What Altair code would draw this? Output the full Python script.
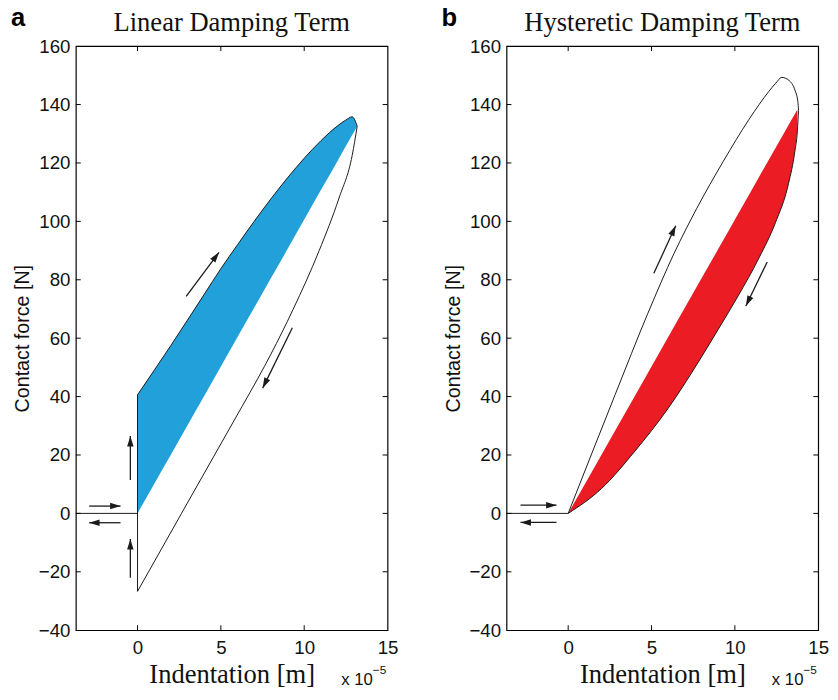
import math
import altair as alt
import pandas as pd

# ---------------- data (x in 1e-5 m, F in N) -------------
XMIN, XMAX = -3.7, 15.0
YMIN, YMAX = -40.0, 160.0
y_ticks = [-40, -20, 0, 20, 40, 60, 80, 100, 120, 140, 160]
x_ticks = [0, 5, 10, 15]

# Panel a : linear damping term
a_up_x = [0.0, 1.0, 2.0, 3.0, 4.0, 5.0, 6.0, 7.0, 8.0, 9.0, 10.0, 11.0, 12.0, 12.5, 12.88, 13.18]
a_up_F = [40.6, 49.0, 57.5, 66.2, 75.0, 83.8, 92.0, 100.0, 107.7, 114.9, 121.6, 127.6, 132.7, 134.7, 135.8, 132.6]
a_chord_F = [0.0, 10.1, 20.1, 30.2, 40.2, 50.3, 60.4, 70.4, 80.5, 90.5, 100.6, 110.7, 120.7, 125.8, 129.6, 132.6]
a_lo_x = [0.0, 2.64, 5.0, 6.27, 7.2, 8.0, 9.33, 10.9, 12.09, 12.88, 13.18]
a_lo_F = [-26.7, 0.0, 23.8, 36.6, 46.0, 54.5, 69.8, 90.0, 108.0, 122.6, 132.6]
a_seg = [  # x1, F1, x2, F2 : straight parts of the path
    (XMIN, 0.0, 0.0, 0.0),
    (0.0, -26.7, 0.0, 40.6),
]
a_arrows = [  # tail x, tail F, head x, head F
    (2.92, 74.3, 4.89, 89.4),
    (9.29, 63.6, 7.51, 42.9),
    (-0.43, 11.4, -0.43, 26.5),
    (-0.43, -22.0, -0.43, -8.8),
    (-2.9, 2.5, -1.02, 2.5),
    (-1.02, -3.2, -2.9, -3.2),
]

# Panel b : hysteretic damping term
b_up_x = [0.0, 2.82, 4.78, 6.35, 7.72, 9.29, 10.86, 12.04, 12.45, 12.82, 13.3, 13.6, 13.78, 13.82]
b_up_F = [0.0, 40.7, 68.5, 89.0, 104.5, 120.4, 135.0, 144.5, 147.3, 149.3, 148.0, 145.0, 141.0, 138.0]
b_lo_x = [0.0, 2.0, 4.0, 6.0, 7.72, 9.0, 10.2, 11.45, 12.43, 13.22, 13.6, 13.75, 13.82]
b_lo_F = [0.0, 8.5, 21.3, 36.0, 51.0, 63.0, 74.5, 87.5, 99.5, 113.0, 124.0, 131.0, 138.0]
b_red_x = [0.0, 2.0, 4.0, 6.0, 7.72, 9.0, 10.2, 11.45, 12.43, 13.22, 13.6, 13.75]
b_red_top = [0.0, 20.1, 40.2, 60.4, 77.7, 90.5, 102.6, 115.2, 125.0, 133.0, 136.8, 138.3]
b_red_bot = [0.0, 8.5, 21.3, 36.0, 51.0, 63.0, 74.5, 87.5, 99.5, 113.0, 124.0, 131.0]
b_seg = [
    (XMIN, 0.0, 0.0, 0.0),
]
b_arrows = [
    (5.14, 82.2, 6.45, 98.5),
    (11.94, 86.1, 10.66, 71.0),
    (-2.86, 2.8, -0.7, 2.8),
    (-0.7, -3.1, -2.86, -3.1),
]

# ---------------- styling -------------
W, H = 317, 594
BLUE = "#22a0da"
RED = "#eb1c24"
LINE = "#1a1a1a"
SANS = "Liberation Sans"
SERIF = "Liberation Serif"

xs = alt.Scale(domain=[XMIN, XMAX], nice=False, zero=False)
ys = alt.Scale(domain=[YMIN, YMAX], nice=False, zero=False)
HEAD = "M0,0 L1.25,4 L-1.25,4 Z"

X_AXIS = alt.Axis(
    values=x_ticks, title="Indentation [m]", ticks=False, domain=False, grid=False,
    labelFont=SANS, labelFontSize=19, labelColor="#111", labelPadding=9,
    titleFont=SERIF, titleFontSize=27, titleFontWeight="normal", titleColor="#111",
    titlePadding=4, labelFlush=False,
)
Y_AXIS = alt.Axis(
    values=y_ticks, title="Contact force [N]", ticks=False, domain=False, grid=False,
    labelFont=SANS, labelFontSize=19, labelColor="#111", labelPadding=6,
    titleFont=SANS, titleFontSize=20, titleFontWeight="normal", titleColor="#111",
    titlePadding=6, labelFlush=False,
)


def X(f):
    return alt.X(f, scale=xs, axis=X_AXIS)


def Y(f):
    return alt.Y(f, scale=ys, axis=Y_AXIS)


def arrow_df(arrows):
    sx = W / (XMAX - XMIN)
    sy = H / (YMAX - YMIN)
    rows = []
    for x1, y1, x2, y2 in arrows:
        dxp = (x2 - x1) * sx
        dyp = -(y2 - y1) * sy
        ang = math.degrees(math.atan2(dxp, -dyp)) % 360
        rows.append(dict(x1=x1, y1=y1, x2=x2, y2=y2, ang=ang))
    return pd.DataFrame(rows)


def panel(fill_x, fill_top, fill_bot, color, curves, segs, arrows, title, letter):
    fill_df = pd.DataFrame({"x": fill_x, "top": fill_top, "bot": fill_bot})
    curve_rows = []
    for name, cx, cy in curves:
        for xv, yv in zip(cx, cy):
            curve_rows.append(dict(c=name, x=xv, F=yv))
    curve_df = pd.DataFrame(curve_rows)
    seg_df = pd.DataFrame(segs, columns=["x1", "y1", "x2", "y2"])
    adf = arrow_df(arrows)

    area = alt.Chart(fill_df).mark_area(color=color, opacity=1, interpolate="monotone").encode(
        x=X("x:Q"), y=Y("top:Q"), y2="bot:Q",
    )
    lines = alt.Chart(curve_df).mark_line(color=LINE, strokeWidth=1, interpolate="monotone").encode(
        x=X("x:Q"), y=Y("F:Q"), detail="c:N",
    )
    segr = alt.Chart(seg_df).mark_rule(color=LINE, strokeWidth=1).encode(
        x=X("x1:Q"), y=Y("y1:Q"), x2="x2:Q", y2="y2:Q",
    )
    shafts = alt.Chart(adf).mark_rule(color=LINE, strokeWidth=1.3).encode(
        x=X("x1:Q"), y=Y("y1:Q"), x2="x2:Q", y2="y2:Q",
    )
    heads = alt.Chart(adf).mark_point(shape=HEAD, filled=True, color=LINE, size=28, opacity=1).encode(
        x=X("x2:Q"), y=Y("y2:Q"), angle=alt.Angle("ang:Q", scale=None),
    )
    ydf = pd.DataFrame({"v": y_ticks[1:-1]})
    xdf = pd.DataFrame({"v": x_ticks[:-1]})
    tl = alt.Chart(ydf).mark_rule(color="#000", strokeWidth=1).encode(
        y=Y("v:Q"), x=alt.value(0), x2=alt.value(5))
    tr = alt.Chart(ydf).mark_rule(color="#000", strokeWidth=1).encode(
        y=Y("v:Q"), x=alt.value(W - 5), x2=alt.value(W))
    tb = alt.Chart(xdf).mark_rule(color="#000", strokeWidth=1).encode(
        x=X("v:Q"), y=alt.value(H), y2=alt.value(H - 5))
    tt = alt.Chart(xdf).mark_rule(color="#000", strokeWidth=1).encode(
        x=X("v:Q"), y=alt.value(0), y2=alt.value(5))

    ttl = alt.Chart(pd.DataFrame({"t": [title]})).mark_text(
        font=SERIF, fontSize=27, color="#111", baseline="alphabetic", align="center").encode(
        text="t:N", x=alt.value(W / 2), y=alt.value(-15))
    let = alt.Chart(pd.DataFrame({"t": [letter]})).mark_text(
        font=SANS, fontSize=26, fontWeight="bold", color="#000", baseline="alphabetic",
        align="left").encode(text="t:N", x=alt.value(-66), y=alt.value(-20))
    e1 = alt.Chart(pd.DataFrame({"t": ["x 10"]})).mark_text(
        font=SANS, fontSize=17, color="#111", baseline="alphabetic", align="right").encode(
        text="t:N", x=alt.value(W - 15), y=alt.value(H + 56))
    e2 = alt.Chart(pd.DataFrame({"t": ["\u22125"]})).mark_text(
        font=SANS, fontSize=12, color="#111", baseline="alphabetic", align="left").encode(
        text="t:N", x=alt.value(W - 15), y=alt.value(H + 45))

    return alt.layer(area, lines, segr, shafts, heads, tl, tr, tb, tt, ttl, let, e1, e2).properties(
        width=W, height=H)


pa = panel(a_up_x, a_up_F, a_chord_F, BLUE,
           [("up", a_up_x, a_up_F), ("lo", a_lo_x, a_lo_F)],
           a_seg, a_arrows, "Linear Damping Term", "a")
pb = panel(b_red_x, b_red_top, b_red_bot, RED,
           [("up", b_up_x, b_up_F), ("lo", b_lo_x, b_lo_F)],
           b_seg, b_arrows, "Hysteretic Damping Term", "b")

chart = alt.hconcat(pa, pb, spacing=42).properties(
    padding={"left": 2, "top": -9, "right": 0, "bottom": -6}
).configure(background="white").configure_view(stroke="#000", strokeWidth=1.2)

chart.save("out.html", embed_options={"renderer": "svg", "actions": False})
